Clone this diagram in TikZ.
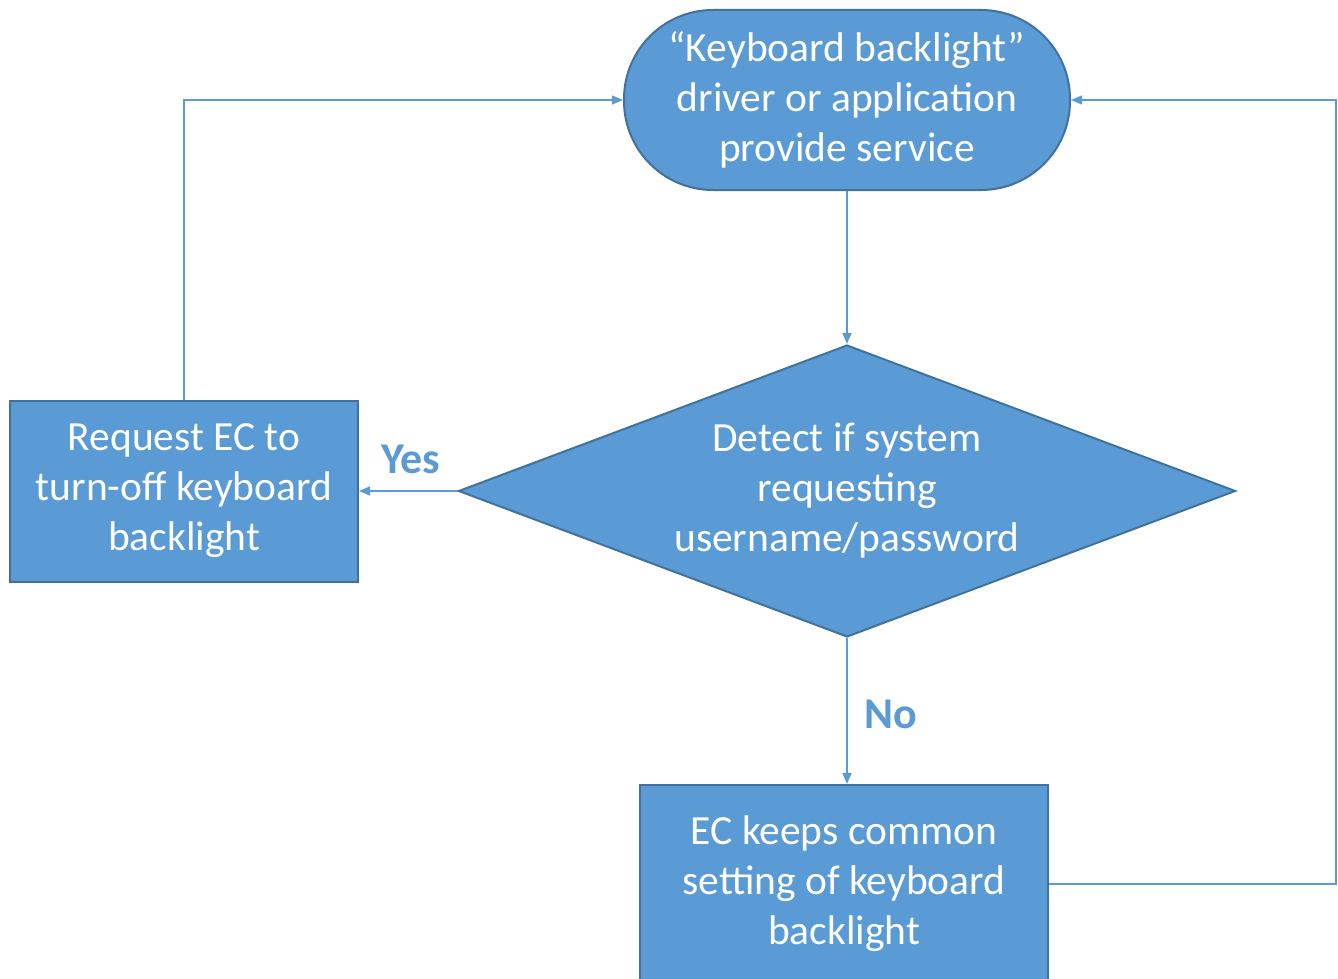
\documentclass[tikz,border=0pt]{standalone}
\usepackage{fontspec}
\setmainfont{Carlito}
\usetikzlibrary{shapes.geometric,arrows.meta}
\definecolor{boxfill}{HTML}{5B9BD5}
\definecolor{boxline}{HTML}{41719C}
\definecolor{conn}{HTML}{5B9BD5}
\begin{document}
\begin{tikzpicture}[x=1pt,y=-1pt,
  shapebase/.style={fill=boxfill,draw=boxline,line width=2pt,text=white,align=center,inner sep=0pt,
     font=\fontsize{41.5}{50}\selectfont},
  termbox/.style={shapebase,rectangle,rounded corners=89pt,minimum width=446pt,minimum height=180pt},
  procbox/.style={shapebase,rectangle,minimum width=348pt,minimum height=181pt},
  decbox/.style={shapebase,diamond,aspect=2.66,minimum width=777pt,minimum height=292pt},
  conline/.style={draw=conn,line width=1.5pt,-{Triangle[length=11pt,width=9pt]}},
  lbl/.style={text=conn,font=\fontsize{44}{50}\selectfont\bfseries,inner sep=0pt}]
\useasboundingbox (0,0) rectangle (1338,979);
\node[termbox] (start) at (847,100) {“Keyboard backlight”\\driver or application\\provide service};
\node[decbox] (dec) at (847,491) {Detect if system\\requesting\\username/password};
\node[procbox] (req) at (184,491) {Request EC to\\turn-off keyboard\\backlight};
\node[procbox,minimum width=408pt,minimum height=198pt] (keep) at (844,884) {EC keeps common\\setting of keyboard\\backlight};
\coordinate (c1) at (184,100);
\coordinate (c2) at (1336,884);
\coordinate (c3) at (1336,100);
\draw[conline] (start.south) -- (dec.north);
\draw[conline] (dec.west) -- (req.east);
\draw[conline] (dec.south) -- (dec.south |- keep.north);
\draw[conline] (req.north) -- (c1) -- (start.west);
\draw[conline] (keep.east) -- (c2) -- (c3) -- (start.east);
\node[lbl] (yes) at (411,459) {Yes};
\node[lbl] (no) at (891,714) {No};
\end{tikzpicture}
\end{document}
